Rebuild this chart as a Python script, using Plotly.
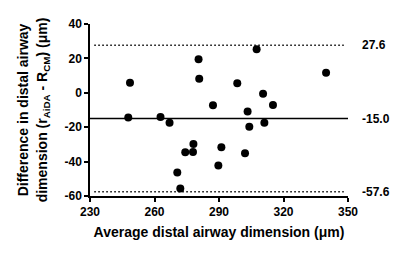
import plotly.graph_objects as go

avg = [248.6, 247.8, 262.8, 267.0, 280.5, 280.8, 278.1, 274.3, 277.9, 270.6, 272.0,
       287.2, 291.1, 289.7, 298.5, 307.5, 303.3, 304.1, 302.1, 310.5, 311.1, 315.1, 339.8]
diff = [5.9, -14.3, -14.1, -17.4, 19.5, 8.2, -29.8, -34.6, -34.4, -46.4, -55.7,
        -7.3, -31.7, -42.2, 5.5, 25.3, -10.8, -19.7, -35.2, -0.5, -17.4, -7.1, 11.7]

bias = -15.0
upper = 27.6
lower = -57.6
x_ticks = [230, 260, 290, 320, 350]
y_ticks = [-60, -40, -20, 0, 20, 40]

FONT = "Liberation Sans, Arial, sans-serif"

fig = go.Figure()
fig.add_trace(go.Scatter(x=avg, y=diff, mode="markers",
                         marker=dict(color="black", size=8), showlegend=False,
                         cliponaxis=False))

xr = [x_ticks[0], x_ticks[-1]]
fig.add_shape(type="line", xref="x", yref="y", x0=xr[0], x1=xr[1], y0=bias, y1=bias,
              line=dict(color="black", width=1.5))
for v in (upper, lower):
    fig.add_shape(type="line", xref="x", yref="y", x0=xr[0] + 2, x1=xr[1] - 2, y0=v, y1=v,
                  line=dict(color="black", width=1.5, dash="1.5px,2.5px"))

for v in (upper, bias, lower):
    fig.add_annotation(x=1.0, xref="paper", y=v, yref="y", text="<b>%.1f</b>" % v,
                       showarrow=False, xanchor="left", xshift=12,
                       font=dict(family=FONT, size=12, color="black"))

fig.update_layout(
    width=400, height=254,
    margin=dict(l=90, r=52, t=24, b=58),
    paper_bgcolor="white", plot_bgcolor="white",
    font=dict(family=FONT, color="black"),
    xaxis=dict(range=xr, tickvals=x_ticks, ticktext=["<b>%d</b>" % t for t in x_ticks],
               showgrid=False, zeroline=False, automargin=False,
               showline=True, linecolor="black", linewidth=1.5,
               ticks="outside", ticklen=4, tickwidth=1.5, tickcolor="black",
               tickfont=dict(family=FONT, size=12, color="black"),
               title=dict(text="<b>Average distal airway dimension (μm)</b>",
                          font=dict(family=FONT, size=14, color="black"), standoff=9)),
    yaxis=dict(range=[-60, 40], tickvals=y_ticks, ticktext=["<b>%d</b>" % t for t in y_ticks],
               showgrid=False, zeroline=False, automargin=False,
               showline=True, linecolor="black", linewidth=1.5,
               ticks="outside", ticklen=4, tickwidth=1.5, tickcolor="black",
               tickfont=dict(family=FONT, size=12, color="black"),
               title=dict(text="<b>Difference in distal airway<br>dimension (r<sub>AiDA</sub> - R<sub>CM</sub>) (μm)</b>",
                          font=dict(family=FONT, size=14, color="black"), standoff=14)),
)

fig.write_html("out.html", post_script="document.body.style.margin='0';",
               config={"displayModeBar": False})
